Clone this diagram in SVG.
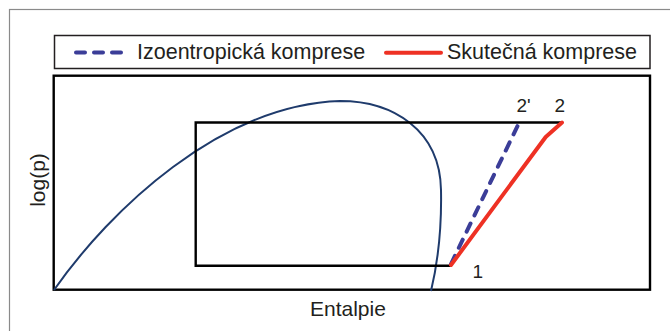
<svg xmlns="http://www.w3.org/2000/svg" width="670" height="331" viewBox="0 0 670 331">
<style>
text{font-family:"Liberation Sans",Arial,sans-serif;fill:#231f20}
.leg{font-size:21.5px}
.ax{font-size:21px}
.pt{font-size:19px}
.blue{fill:none;stroke:#3b3d98;stroke-width:4;stroke-dasharray:9 9;stroke-linecap:round}
.red{fill:none;stroke:#ee3124;stroke-width:4;stroke-linecap:round;stroke-linejoin:round}
.blk{fill:none;stroke:#000;stroke-width:2.4}
</style>
<rect width="670" height="331" fill="#fff"/>
<rect x="9.5" y="9.5" width="680" height="340" fill="none" stroke="#8a8a8a" stroke-width="1.2"/>
<g id="legend">
<rect x="54.5" y="35.5" width="595.5" height="33" fill="none" stroke="#231f20" stroke-width="1.5"/>
<line x1="76" y1="52.5" x2="126" y2="52.5" class="blue"/>
<text x="137" y="59.3" class="leg">Izoentropická komprese</text>
<line x1="386" y1="52.7" x2="441" y2="52.7" class="red"/>
<text x="447" y="59.3" class="leg">Skutečná komprese</text>
</g>
<g id="plot">
<rect x="53.7" y="75.7" width="596.3" height="214" class="blk" stroke-width="2"/>
<text class="ax" transform="translate(44.6,180) rotate(-90)" text-anchor="middle">log(p)</text>
<text x="310" y="316" class="ax">Entalpie</text>
</g>
<g id="dome">
<path d="M54,290 C110,210 220,105 340,101 C393,101 440,130 441,190 C442,240 436,270 431,291" fill="none" stroke="#1f3b6c" stroke-width="2"/>
</g>
<g id="cycle">
<polyline points="451,265.7 195.7,265.7 195.7,122.5 562,122.5" class="blk"/>
</g>
<g id="connectors">
<line x1="451" y1="264" x2="519" y2="123" class="blue" stroke-dasharray="9 8"/>
<polyline points="451,265 545.7,137 562,122.5" class="red"/>
</g>
<g id="labels">
<text x="516.5" y="111.7" class="pt">2'</text>
<text x="554.5" y="111.7" class="pt">2</text>
<text x="472.5" y="277.5" class="pt">1</text>
</g>
</svg>
